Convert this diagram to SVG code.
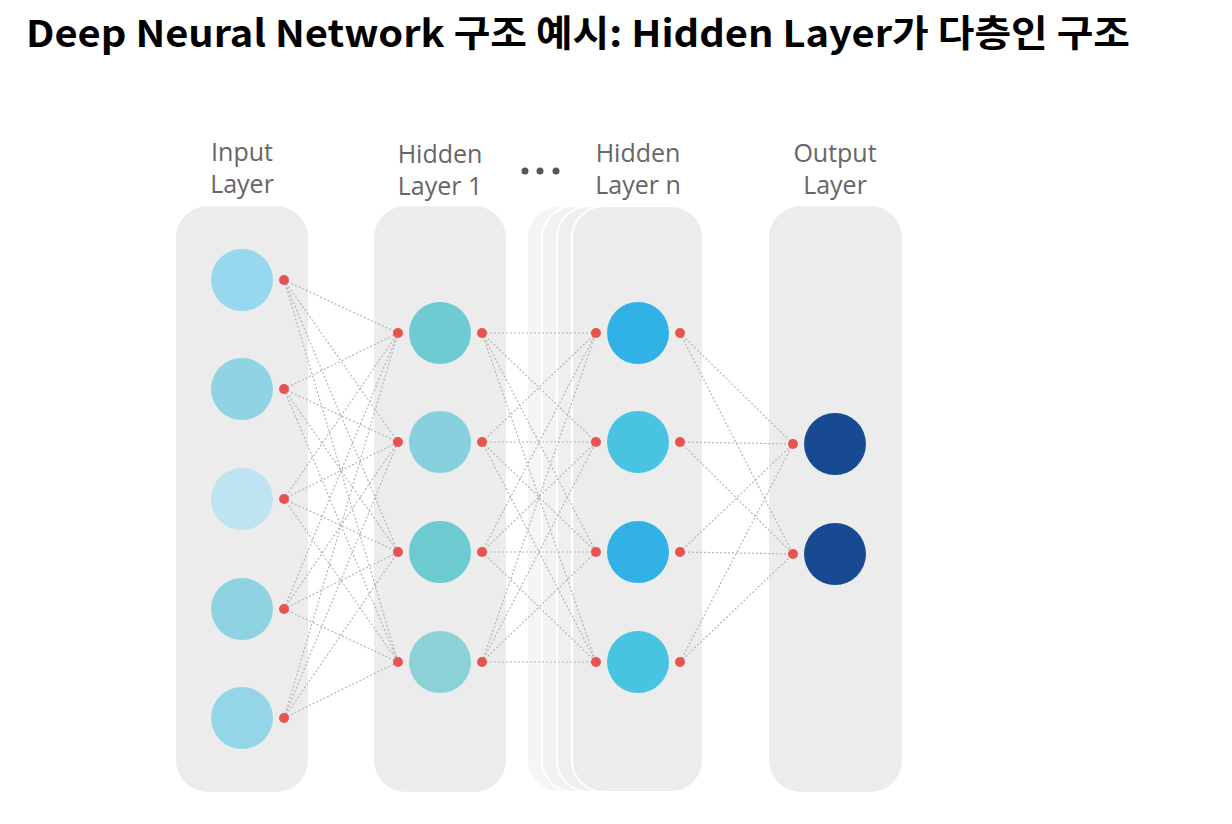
<svg xmlns="http://www.w3.org/2000/svg" width="1232" height="824" viewBox="0 0 1232 824">
<style>
.title{font-family:"Noto Sans CJK KR","Noto Sans",sans-serif;font-weight:700;font-size:37px;fill:#000}
.lbl{font-family:"Open Sans","Noto Sans",sans-serif;font-size:25px;fill:#666;text-anchor:middle}
.col{fill:#ececec}
.back{fill:#f2f2f2;stroke:#fff;stroke-width:2}
.dot{fill:#e8524f}
.conn line{stroke:#b5b5b5;stroke-width:1.2;stroke-dasharray:2 2;fill:none}
</style>
<rect width="1232" height="824" fill="#fff"/>
<text class="title" x="26" y="47" textLength="1104" lengthAdjust="spacingAndGlyphs">Deep Neural Network 구조 예시: Hidden Layer가 다층인 구조</text>

<g id="layer-boxes">
<rect class="col" x="176" y="206" width="132" height="586" rx="32"/>
<rect class="col" x="374" y="206" width="132" height="586" rx="32"/>
<rect class="back" x="527" y="206" width="150" height="586" rx="32" style="fill:#f5f5f5"/>
<rect class="back" x="542" y="206" width="150" height="586" rx="32" style="fill:#f2f2f2"/>
<rect class="back" x="557" y="206" width="146" height="586" rx="32" style="fill:#efefef"/>
<rect class="col" x="572" y="206" width="131" height="586" rx="32" style="stroke:#fff;stroke-width:2"/>
<rect class="col" x="769" y="206" width="133" height="586" rx="32"/>
</g>

<g id="labels">
<text class="lbl" x="242" y="161">Input</text>
<text class="lbl" x="242" y="193">Layer</text>
<text class="lbl" x="440" y="163">Hidden</text>
<text class="lbl" x="440" y="195">Layer 1</text>
<text class="lbl" x="638" y="162">Hidden</text>
<text class="lbl" x="638" y="194">Layer n</text>
<text class="lbl" x="835" y="162">Output</text>
<text class="lbl" x="835" y="194">Layer</text>
<circle cx="525" cy="171" r="3.5" fill="#555"/>
<circle cx="540" cy="171" r="3.5" fill="#555"/>
<circle cx="556" cy="171" r="3.5" fill="#555"/>
</g>

<g id="connectors" class="conn">
<line x1="284" y1="280" x2="398" y2="333"/><line x1="284" y1="280" x2="398" y2="442"/><line x1="284" y1="280" x2="398" y2="552"/><line x1="284" y1="280" x2="398" y2="662"/>
<line x1="284" y1="389" x2="398" y2="333"/><line x1="284" y1="389" x2="398" y2="442"/><line x1="284" y1="389" x2="398" y2="552"/><line x1="284" y1="389" x2="398" y2="662"/>
<line x1="284" y1="499" x2="398" y2="333"/><line x1="284" y1="499" x2="398" y2="442"/><line x1="284" y1="499" x2="398" y2="552"/><line x1="284" y1="499" x2="398" y2="662"/>
<line x1="284" y1="609" x2="398" y2="333"/><line x1="284" y1="609" x2="398" y2="442"/><line x1="284" y1="609" x2="398" y2="552"/><line x1="284" y1="609" x2="398" y2="662"/>
<line x1="284" y1="718" x2="398" y2="333"/><line x1="284" y1="718" x2="398" y2="442"/><line x1="284" y1="718" x2="398" y2="552"/><line x1="284" y1="718" x2="398" y2="662"/>
<line x1="482" y1="333" x2="596" y2="333"/><line x1="482" y1="333" x2="596" y2="442"/><line x1="482" y1="333" x2="596" y2="552"/><line x1="482" y1="333" x2="596" y2="662"/>
<line x1="482" y1="442" x2="596" y2="333"/><line x1="482" y1="442" x2="596" y2="442"/><line x1="482" y1="442" x2="596" y2="552"/><line x1="482" y1="442" x2="596" y2="662"/>
<line x1="482" y1="552" x2="596" y2="333"/><line x1="482" y1="552" x2="596" y2="442"/><line x1="482" y1="552" x2="596" y2="552"/><line x1="482" y1="552" x2="596" y2="662"/>
<line x1="482" y1="662" x2="596" y2="333"/><line x1="482" y1="662" x2="596" y2="442"/><line x1="482" y1="662" x2="596" y2="552"/><line x1="482" y1="662" x2="596" y2="662"/>
<line x1="680" y1="333" x2="793" y2="444"/><line x1="680" y1="333" x2="793" y2="554"/>
<line x1="680" y1="442" x2="793" y2="444"/><line x1="680" y1="442" x2="793" y2="554"/>
<line x1="680" y1="552" x2="793" y2="444"/><line x1="680" y1="552" x2="793" y2="554"/>
<line x1="680" y1="662" x2="793" y2="444"/><line x1="680" y1="662" x2="793" y2="554"/>
</g>

<g id="input-layer">
<circle cx="242" cy="280" r="31" fill="#97d8ef"/><circle class="dot" cx="284" cy="280" r="5"/>
<circle cx="242" cy="389" r="31" fill="#8fd3e5"/><circle class="dot" cx="284" cy="389" r="5"/>
<circle cx="242" cy="499" r="31" fill="#bee4f2"/><circle class="dot" cx="284" cy="499" r="5"/>
<circle cx="242" cy="609" r="31" fill="#8fd3e3"/><circle class="dot" cx="284" cy="609" r="5"/>
<circle cx="242" cy="718" r="31" fill="#94d6e8"/><circle class="dot" cx="284" cy="718" r="5"/>
</g>

<g id="hidden-layer-1">
<circle class="dot" cx="398" cy="333" r="5"/><circle cx="440" cy="333" r="31" fill="#6dcbd1"/><circle class="dot" cx="482" cy="333" r="5"/>
<circle class="dot" cx="398" cy="442" r="5"/><circle cx="440" cy="442" r="31" fill="#88d0dd"/><circle class="dot" cx="482" cy="442" r="5"/>
<circle class="dot" cx="398" cy="552" r="5"/><circle cx="440" cy="552" r="31" fill="#6ccbd0"/><circle class="dot" cx="482" cy="552" r="5"/>
<circle class="dot" cx="398" cy="662" r="5"/><circle cx="440" cy="662" r="31" fill="#8ad2d6"/><circle class="dot" cx="482" cy="662" r="5"/>
</g>

<g id="hidden-layer-n">
<circle class="dot" cx="596" cy="333" r="5"/><circle cx="638" cy="333" r="31" fill="#31b2e6"/><circle class="dot" cx="680" cy="333" r="5"/>
<circle class="dot" cx="596" cy="442" r="5"/><circle cx="638" cy="442" r="31" fill="#48c4e2"/><circle class="dot" cx="680" cy="442" r="5"/>
<circle class="dot" cx="596" cy="552" r="5"/><circle cx="638" cy="552" r="31" fill="#32b1e6"/><circle class="dot" cx="680" cy="552" r="5"/>
<circle class="dot" cx="596" cy="662" r="5"/><circle cx="638" cy="662" r="31" fill="#47c4e2"/><circle class="dot" cx="680" cy="662" r="5"/>
</g>

<g id="output-layer">
<circle class="dot" cx="793" cy="444" r="5"/><circle cx="835" cy="444" r="31" fill="#174a93"/>
<circle class="dot" cx="793" cy="554" r="5"/><circle cx="835" cy="554" r="31" fill="#174a93"/>
</g>
</svg>
